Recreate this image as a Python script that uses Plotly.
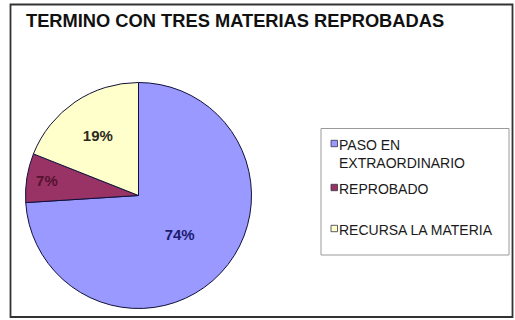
import plotly.graph_objects as go

categories = ["PASO EN EXTRAORDINARIO", "REPROBADO", "RECURSA LA MATERIA"]
values = [74, 7, 19]
colors = ["#9999FF", "#993366", "#FFFFCC"]
text_colors = ["#1c1c70", "#55122f", "#2a2a1a"]
title = "TERMINO CON TRES MATERIAS REPROBADAS"

W, H = 515, 320
def px(x):
    return x / W
def py(y):
    return 1 - y / H

cx, cy, r = 138.5, 195.5, 113

fig = go.Figure(go.Pie(
    labels=categories,
    values=values,
    sort=False,
    direction="clockwise",
    rotation=0,
    marker=dict(colors=colors, line=dict(color="#10103a", width=1)),
    textinfo="percent",
    texttemplate="<b>%{percent:.0%}</b>",
    textposition="inside",
    insidetextorientation="horizontal",
    textfont=dict(family="Liberation Sans, Arial, sans-serif", size=15, color=text_colors),
    domain=dict(x=[px(cx - r), px(cx + r)], y=[py(cy + r), py(cy - r)]),
    showlegend=False,
    hoverinfo="label+percent",
))

shapes = [
    # outer frame
    dict(type="rect", xref="paper", yref="paper", x0=px(10.5), x1=px(512.5), y0=py(317), y1=py(4.5),
         line=dict(color="#333333", width=1.8), fillcolor="rgba(0,0,0,0)", layer="below"),
    # legend box
    dict(type="rect", xref="paper", yref="paper", x0=px(321), x1=px(509), y0=py(255), y1=py(128.5),
         line=dict(color="#9a9a9a", width=1), fillcolor="white", layer="below"),
]

annotations = [
    dict(text="<b>" + title + "</b>", xref="paper", yref="paper", x=px(24), y=py(20.5), xanchor="left",
         yanchor="middle", showarrow=False,
         font=dict(family="Liberation Sans, Arial, sans-serif", size=18.3, color="#111111")),
]

legend_y = [143.5, 187.5, 228.5]
for cat, col, yy in zip(categories, colors, legend_y):
    shapes.append(dict(type="rect", xref="paper", yref="paper", x0=px(331), x1=px(337.5),
                       y0=py(yy + 3.2), y1=py(yy - 3.2), line=dict(color="#333344", width=0.8),
                       fillcolor=col))
    txt = cat.replace("EN ", "EN<br>", 1) if len(cat) > 20 else cat
    annotations.append(dict(text=txt, xref="paper", yref="paper", x=px(337), y=py(yy - 9),
                            xanchor="left", yanchor="top", align="left", showarrow=False,
                            font=dict(family="Liberation Sans, Arial, sans-serif", size=14, color="#1a1a1a")))

fig.update_layout(
    width=W, height=H,
    margin=dict(l=0, r=0, t=0, b=0),
    paper_bgcolor="white",
    plot_bgcolor="white",
    shapes=shapes,
    annotations=annotations,
)

fig.write_html("out.html", config={"displayModeBar": False},
               post_script="document.body.style.margin='0';document.body.style.overflow='hidden';")
